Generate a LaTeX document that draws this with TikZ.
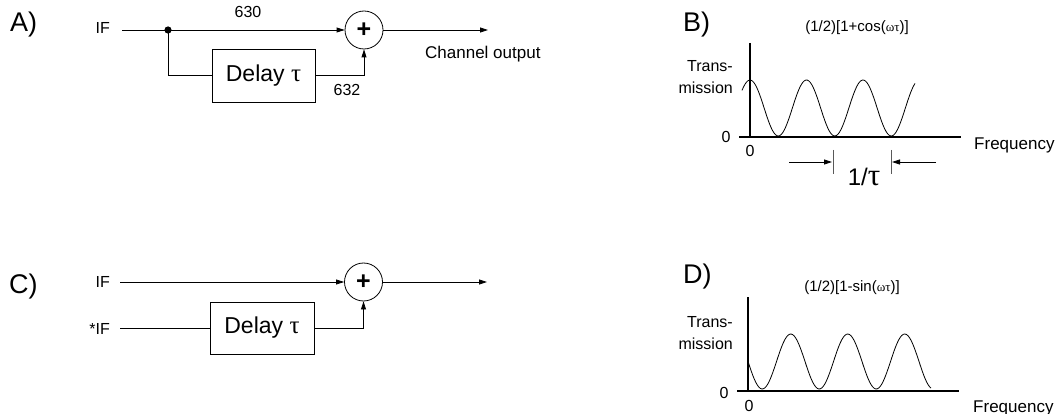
\documentclass[tikz,border=0pt]{standalone}
\usepackage{fontspec}
\setmainfont{Liberation Sans}
\newfontfamily\grk{Liberation Serif}
\usetikzlibrary{arrows.meta}
\newcommand{\fsz}[1]{\fontsize{#1}{#1}\selectfont}
\begin{document}
\begin{tikzpicture}[x=1pt,y=-1pt,
  wire/.style={line width=0.8pt},
  conn/.style={line width=0.8pt,-{Triangle[length=8pt,width=5pt]}},
  axis/.style={line width=1.7pt},
  curve/.style={line width=0.8pt},
  tickmark/.style={line width=1pt, black!65},
  lbl/.style={inner sep=0pt, font=\fsz{16}},
  panel/.style={inner sep=0pt, anchor=base west, font=\fsz{27}},
  delaybox/.style={draw, line width=0.8pt, minimum width=103pt, minimum height=53pt, inner sep=0pt, font=\fsz{23}},
  sumnode/.style={draw, circle, line width=0.8pt, minimum size=38pt, inner sep=0pt, font=\fsz{25}\bfseries},
  title/.style={inner sep=0pt, anchor=base, font=\fsz{15}}
]
\useasboundingbox (0,0) rectangle (1060,414);

% ---------- A ----------
\node[panel] (labA) at (10,32) {A)};
\node[lbl, anchor=base east] (ifA) at (110,34) {IF};
\coordinate (startA) at (122,30);
\coordinate (dotA) at (168,30);
\node[sumnode] (sumA) at (364,30) {+};
\node[delaybox] (delayA) at (263.5,75.5) {Delay {\grk\fsz{25}τ}};
\coordinate (outA) at (488,30);
\node[lbl, anchor=base] (n630) at (248,18) {630};
\node[lbl, anchor=base] (n632) at (347,96) {632};
\node[lbl, anchor=base west, font=\fsz{17}] (chout) at (425,59) {Channel output};
\draw[conn] (startA) -- (sumA.west);
\draw[wire] (dotA) |- (delayA.west);
\draw[conn] (delayA.east) -| (sumA.south);
\draw[conn] (sumA.east) -- (outA);
\fill (dotA) circle (3.6pt);

% ---------- C ----------
\node[panel] (labC) at (9,293) {C)};
\node[lbl, anchor=base east] (ifC) at (110,287) {IF};
\node[lbl, anchor=base east] (sifC) at (110,334) {*IF};
\coordinate (startC1) at (120,282);
\coordinate (startC2) at (120,328);
\node[sumnode] (sumC) at (363.5,282) {+};
\node[delaybox, minimum width=104pt, minimum height=52pt] (delayC) at (262,328) {Delay {\grk\fsz{25}τ}};
\coordinate (outC) at (487,282);
\draw[conn] (startC1) -- (sumC.west);
\draw[wire] (startC2) -- (delayC.west);
\draw[conn] (delayC.east) -| (sumC.south);
\draw[conn] (sumC.east) -- (outC);

% ---------- B ----------
\node[panel] (labB) at (683,32) {B)};
\node[title] (titB) at (857,32) {(1/2)[1+cos({\grk\fsz{13}ωτ})]};
\node[lbl, anchor=base east] (trB) at (733,72) {Trans-};
\node[lbl, anchor=base east] (msB) at (733,94) {mission};
\node[lbl, anchor=base] (zyB) at (726,143) {0};
\node[lbl, anchor=base] (zxB) at (750,157) {0};
\node[lbl, anchor=base west, font=\fsz{17}] (frB) at (974,150) {Frequency};
\draw[axis] (750,43) -- (750,137);
\draw[axis] (739,137) -- (961,137);
\draw[curve] plot[domain=742:915, samples=120, smooth] (\x, {108 - 28*cos(6.3717*(\x-750))});
\draw[tickmark] (833,150) -- (833,174);
\draw[tickmark] (891,150) -- (891,174);
\coordinate (arL) at (789,162);
\coordinate (arLt) at (832,162);
\coordinate (arR) at (936,162);
\coordinate (arRt) at (892,162);
\draw[conn] (arL) -- (arLt);
\draw[conn] (arR) -- (arRt);
\node[inner sep=0pt, anchor=base, font=\fsz{24}] (invtau) at (864,186) {1/{\grk\fsz{31}τ}};

% ---------- D ----------
\node[panel] (labD) at (683,283) {D)};
\node[title] (titD) at (852,291) {(1/2)[1-sin({\grk\fsz{13}ωτ})]};
\node[lbl, anchor=base east] (trD) at (733,327) {Trans-};
\node[lbl, anchor=base east] (msD) at (733,349) {mission};
\node[lbl, anchor=base] (zyD) at (724,398) {0};
\node[lbl, anchor=base] (zxD) at (749,411) {0};
\node[lbl, anchor=base west, font=\fsz{17}] (frD) at (973,412) {Frequency};
\draw[axis] (748,297) -- (748,391);
\draw[axis] (737,391) -- (959,391);
\draw[curve] plot[domain=748:931, samples=120, smooth] (\x, {389 - 27.5*(1 - sin(6.3158*(\x-748)))});
\end{tikzpicture}
\end{document}
